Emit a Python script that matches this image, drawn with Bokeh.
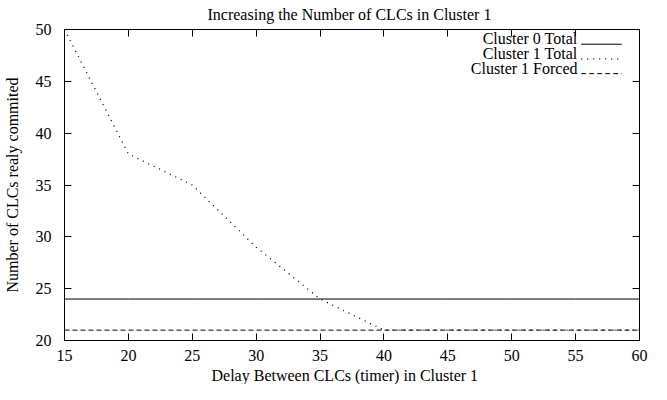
from bokeh.plotting import figure
from bokeh.models import (Range1d, LinearAxis, SingleIntervalTicker, Label, ColumnDataSource,
                          Title, CustomJSTickFormatter)
from bokeh.embed import file_html
from bokeh.resources import INLINE

# ---- data ----
delay = [15, 20, 25, 30, 35, 40, 45, 50, 55, 60]
cluster0_total = [24, 24, 24, 24, 24, 24, 24, 24, 24, 24]
cluster1_total = [50, 38, 35, 29, 24, 21, 21, 21, 21, 21]
cluster1_forced = [21, 21, 21, 21, 21, 21, 21, 21, 21, 21]
series_names = ["Cluster 0 Total", "Cluster 1 Total", "Cluster 1 Forced"]
title_text = "Increasing the Number of CLCs in Cluster 1"
xlabel = "Delay Between CLCs (timer) in Cluster 1"
ylabel = "Number of CLCs realy commited"

FONT = "Liberation Serif"
FS = "16px"
XMIN, XMAX, YMIN, YMAX = 15, 60, 20, 50
W, H = 651, 384
BL, BR, BT, BB = 57, 12, 24, 43
FW, FH = W - BL - BR, H - BT - BB

p = figure(width=W, height=H, output_backend="svg", toolbar_location=None,
           x_range=Range1d(XMIN, XMAX), y_range=Range1d(YMIN, YMAX),
           min_border_left=BL, min_border_right=BR, min_border_top=BT, min_border_bottom=BB,
           x_axis_location="below", y_axis_location="left")
p.xgrid.visible = False
p.ygrid.visible = False
p.outline_line_color = "black"
p.background_fill_color = "white"
p.border_fill_color = "white"


def style_axis(ax):
    ax.axis_line_color = "black"
    ax.major_tick_line_color = "black"
    ax.major_tick_in = 7
    ax.major_tick_out = 0
    ax.minor_tick_line_color = None
    ax.major_label_text_font = FONT
    ax.major_label_text_font_size = FS
    ax.major_label_text_color = "black"
    ax.axis_label_text_font = FONT
    ax.axis_label_text_font_size = FS
    ax.axis_label_text_font_style = "normal"
    ax.axis_label_text_color = "black"


p.xaxis.ticker = SingleIntervalTicker(interval=5)
p.yaxis.ticker = SingleIntervalTicker(interval=5)
style_axis(p.xaxis[0])
style_axis(p.yaxis[0])
p.xaxis.major_label_standoff = 5
p.yaxis.major_label_standoff = 9
p.yaxis.axis_label = ylabel
p.yaxis.axis_label_standoff = 12

# mirrored ticks (no labels) on top and right
for loc in ("above", "right"):
    ax = LinearAxis(ticker=SingleIntervalTicker(interval=5),
                    formatter=CustomJSTickFormatter(code="return ''"))
    style_axis(ax)
    ax.major_label_standoff = 0
    p.add_layout(ax, loc)

src = ColumnDataSource(dict(x=delay, c0=cluster0_total, c1=cluster1_total, f1=cluster1_forced))
p.line("x", "c0", source=src, line_color="black", line_width=1)
p.line("x", "c1", source=src, line_color="black", line_width=1.3, line_dash="1 5")
p.line("x", "f1", source=src, line_color="black", line_width=1, line_dash="5 3")

# title and x label, positioned like gnuplot (centered on the canvas)
p.title = Title(text=title_text, align="left", offset=143, text_font=FONT,
                text_font_size=FS, text_font_style="normal", text_color="black", standoff=6)
p.add_layout(Title(text=xlabel, align="left", offset=147, text_font=FONT,
                   text_font_size=FS, text_font_style="normal", text_color="black",
                   standoff=2), "below")

# manual gnuplot-style legend: text right-aligned, sample to the right
dashes = ["solid", "1 5", "5 3"]
widths = [1, 1.3, 1]
xs_per_px = (XMAX - XMIN) / FW
ys_per_px = (YMAX - YMIN) / FH
for i, name in enumerate(series_names):
    row_px = 15 + 15 * i
    ty = FH - row_px
    p.add_layout(Label(x=FW - 69, y=ty, x_units="screen", y_units="screen", text=name,
                       text_font=FONT, text_font_size=FS, text_align="right",
                       text_baseline="middle", text_color="black"))
    yv = YMAX - row_px * ys_per_px
    x0 = XMAX - 59 * xs_per_px
    x1 = XMAX - 18 * xs_per_px
    p.line([x0, x1], [yv, yv], line_color="black", line_width=widths[i], line_dash=dashes[i])

open("out.html", "w").write(file_html(p, INLINE))
